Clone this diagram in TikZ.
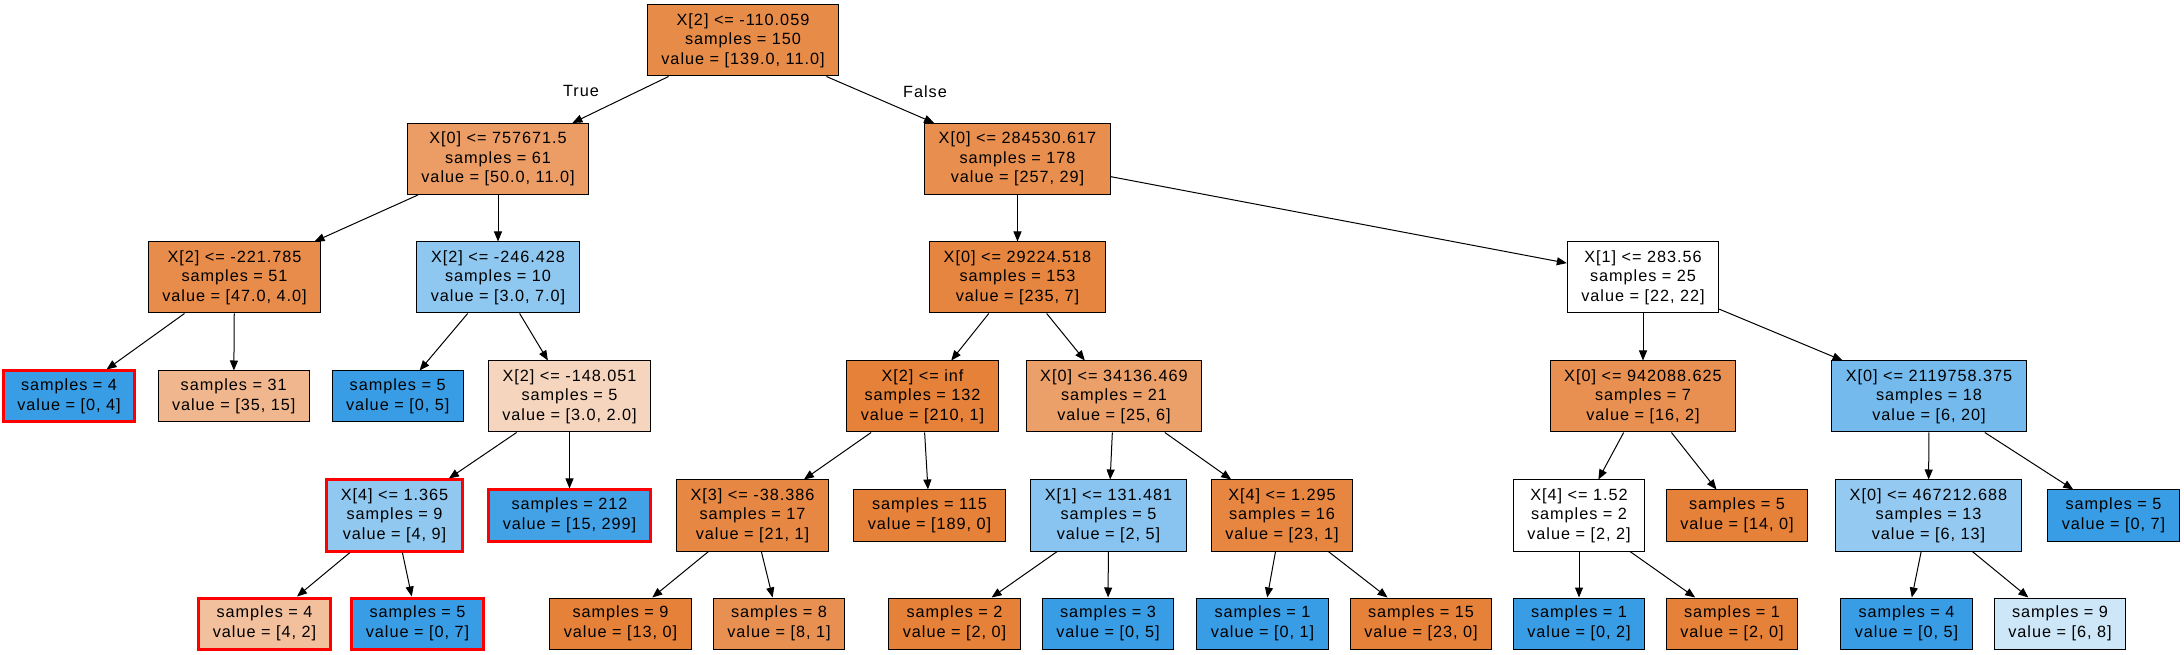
\documentclass[tikz,border=0pt]{standalone}
\usepackage{fontspec}
\setmainfont{Liberation Sans}[LetterSpace=6.0]
\usetikzlibrary{arrows.meta}
\tikzset{every picture/.style={line width=0.75pt}}
\definecolor{cls0}{RGB}{229,129,57}
\definecolor{cls1}{RGB}{57,157,229}
\tikzset{
  box/.style={draw, rectangle, align=center, inner xsep=10.5pt, inner ysep=2pt,
    font=\fontsize{12.2}{14.6}\selectfont},
  split/.style={box, minimum height=53.25pt},
  leaf/.style={box, minimum height=38.25pt},
  hilite/.style={draw=red, line width=2.25pt},
  edge/.style={-{Triangle[length=7.5pt,width=6pt]}},
  lbl/.style={inner sep=0.75pt, font=\fontsize{12.2}{14.6}\selectfont}
}

\begin{document}
\begin{tikzpicture}[x=0.75pt,y=0.75pt,yscale=-1,xscale=1]
\useasboundingbox (0,0) rectangle (2184,655);

% depth 0
\node[split, fill=cls0!92] (n0) at (743,40.5) {X[2] <= -110.059\\samples = 150\\value = [139.0, 11.0]};
% depth 1
\node[split, fill=cls0!78] (n1) at (498,159) {X[0] <= 757671.5\\samples = 61\\value = [50.0, 11.0]};
\node[split, fill=cls0!89] (n12) at (1017.5,159) {X[0] <= 284530.617\\samples = 178\\value = [257, 29]};
% depth 2
\node[split, fill=cls0!91] (n2) at (234.5,277.5) {X[2] <= -221.785\\samples = 51\\value = [47.0, 4.0]};
\node[split, fill=cls1!57] (n5) at (498,277.5) {X[2] <= -246.428\\samples = 10\\value = [3.0, 7.0]};
\node[split, fill=cls0!97] (n13) at (1017.5,277.5) {X[0] <= 29224.518\\samples = 153\\value = [235, 7]};
\node[split, fill=white] (n26) at (1643,277.5) {X[1] <= 283.56\\samples = 25\\value = [22, 22]};
% depth 3
\node[leaf, fill=cls1, hilite] (n3) at (69,396.5) {samples = 4\\value = [0, 4]};
\node[leaf, fill=cls0!57] (n4) at (233.7,396.5) {samples = 31\\value = [35, 15]};
\node[leaf, fill=cls1] (n6) at (397.7,396.5) {samples = 5\\value = [0, 5]};
\node[split, fill=cls0!33] (n7) at (569.5,396.5) {X[2] <= -148.051\\samples = 5\\value = [3.0, 2.0]};
\node[split, fill=cls0] (n14) at (922.5,396.5) {X[2] <= inf\\samples = 132\\value = [210, 1]};
\node[split, fill=cls0!76] (n19) at (1114,396.5) {X[0] <= 34136.469\\samples = 21\\value = [25, 6]};
\node[split, fill=cls0!88] (n27) at (1643,396.5) {X[0] <= 942088.625\\samples = 7\\value = [16, 2]};
\node[split, fill=cls1!70] (n32) at (1929,396.5) {X[0] <= 2119758.375\\samples = 18\\value = [6, 20]};
% depth 4
\node[split, fill=cls1!56, hilite] (n8) at (394.5,515.5) {X[4] <= 1.365\\samples = 9\\value = [4, 9]};
\node[leaf, fill=cls1!95, hilite] (n11) at (569.5,515.5) {samples = 212\\value = [15, 299]};
\node[split, fill=cls0!95] (n15) at (752.5,515.5) {X[3] <= -38.386\\samples = 17\\value = [21, 1]};
\node[leaf, fill=cls0] (n18) at (929.5,515.5) {samples = 115\\value = [189, 0]};
\node[split, fill=cls1!60] (n20) at (1108.5,515.5) {X[1] <= 131.481\\samples = 5\\value = [2, 5]};
\node[split, fill=cls0!96] (n23) at (1282,515.5) {X[4] <= 1.295\\samples = 16\\value = [23, 1]};
\node[split, fill=white] (n28) at (1579,515.5) {X[4] <= 1.52\\samples = 2\\value = [2, 2]};
\node[leaf, fill=cls0] (n31) at (1737,515.5) {samples = 5\\value = [14, 0]};
\node[split, fill=cls1!54] (n33) at (1928.5,515.5) {X[0] <= 467212.688\\samples = 13\\value = [6, 13]};
\node[leaf, fill=cls1] (n36) at (2113.5,515.5) {samples = 5\\value = [0, 7]};
% depth 5
\node[leaf, fill=cls0!50, hilite] (n9) at (264.5,623.5) {samples = 4\\value = [4, 2]};
\node[leaf, fill=cls1, hilite] (n10) at (417.5,623.5) {samples = 5\\value = [0, 7]};
\node[leaf, fill=cls0] (n16) at (620.5,623.5) {samples = 9\\value = [13, 0]};
\node[leaf, fill=cls0!88] (n17) at (779,623.5) {samples = 8\\value = [8, 1]};
\node[leaf, fill=cls0] (n21) at (954.5,623.5) {samples = 2\\value = [2, 0]};
\node[leaf, fill=cls1] (n22) at (1108,623.5) {samples = 3\\value = [0, 5]};
\node[leaf, fill=cls1] (n24) at (1262.5,623.5) {samples = 1\\value = [0, 1]};
\node[leaf, fill=cls0] (n25) at (1421,623.5) {samples = 15\\value = [23, 0]};
\node[leaf, fill=cls1] (n29) at (1579,623.5) {samples = 1\\value = [0, 2]};
\node[leaf, fill=cls0] (n30) at (1732,623.5) {samples = 1\\value = [2, 0]};
\node[leaf, fill=cls1] (n34) at (1906.5,623.5) {samples = 4\\value = [0, 5]};
\node[leaf, fill=cls1!25] (n35) at (2060,623.5) {samples = 9\\value = [6, 8]};

% Text Node
\node[lbl] (lblTrue) at (581,91) {True};
% Text Node
\node[lbl] (lblFalse) at (925,92) {False};

% edges
\foreach \a/\b in {0/1,1/2,2/3,2/4,1/5,5/6,5/7,7/8,8/9,8/10,7/11,
                   0/12,12/13,13/14,14/15,15/16,15/17,14/18,13/19,19/20,20/21,20/22,19/23,23/24,23/25,
                   12/26,26/27,27/28,28/29,28/30,27/31,26/32,32/33,33/34,33/35,32/36}
  \draw[edge] (n\a) -- (n\b);

\end{tikzpicture}
\end{document}
